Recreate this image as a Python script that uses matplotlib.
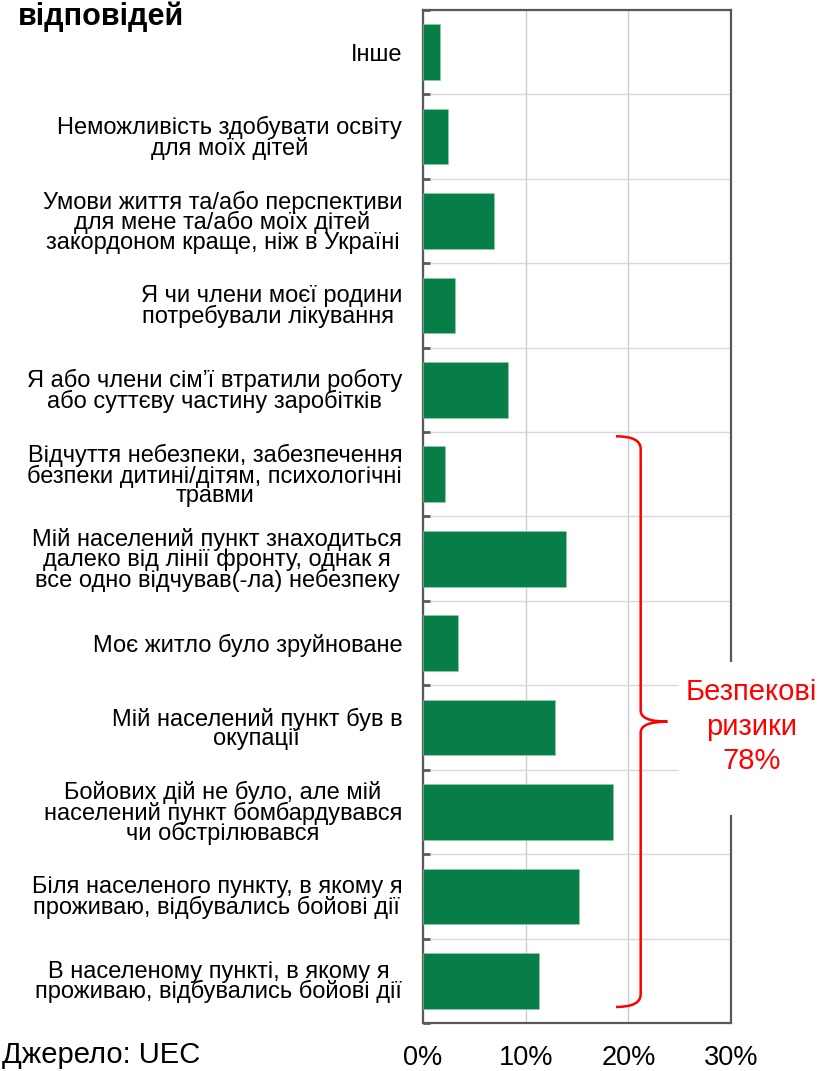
import numpy as np
import matplotlib.pyplot as plt
from matplotlib.path import Path
from matplotlib.patches import PathPatch, Rectangle

plt.rcParams['font.family'] = ['Liberation Sans', 'DejaVu Sans']

categories = [
    'Інше',
    'Неможливість здобувати освіту\nдля моїх дітей',
    'Умови життя та/або перспективи\nдля мене та/або моїх дітей\nзакордоном краще, ніж в Україні',
    'Я чи члени моєї родини\nпотребували лікування ',
    'Я або члени сім’ї втратили роботу\nабо суттєву частину заробітків',
    'Відчуття небезпеки, забезпечення\nбезпеки дитині/дітям, психологічні\nтравми',
    'Мій населений пункт знаходиться\nдалеко від лінії фронту, однак я\nвсе одно відчував(-ла) небезпеку',
    'Моє житло було зруйноване',
    'Мій населений пункт був в\nокупації',
    'Бойових дій не було, але мій\nнаселений пункт бомбардувався\nчи обстрілювався',
    'Біля населеного пункту, в якому я\nпроживаю, відбувались бойові дії',
    'В населеному пункті, в якому я\nпроживаю, відбувались бойові дії',
]
values = [1.7, 2.4, 6.9, 3.1, 8.3, 2.1, 13.9, 3.4, 12.9, 18.5, 15.2, 11.3]
x_ticks = [0, 10, 20, 30]
x_labels = ['0%', '10%', '20%', '30%']
brace_first, brace_last = 5, 11   # security-risk group
brace_text = 'Безпекові\nризики\n78%'

green = '#077D47'
spine_col = '#595959'

fig = plt.figure(figsize=(8.2, 10.71), dpi=100)
ax = fig.add_axes([0.5159, 0.0448, 0.3756, 0.9459])

pos = np.arange(len(categories))
ax.barh(pos, values, height=0.66, color=green, edgecolor='#8fcfa8', linewidth=0.4, zorder=3)

ax.set_xlim(0, 30)
ax.set_ylim(len(categories) - 0.5, -0.5)
ax.set_xticks(x_ticks)
ax.set_xticklabels(x_labels, fontsize=19.5)
ax.set_yticks(pos)
ax.set_yticklabels(categories, fontsize=17, linespacing=0.86, ha='right', multialignment='center')
ax.set_yticks(np.arange(len(categories) + 1) - 0.5, minor=True)

ax.tick_params(axis='x', length=0, pad=16)
ax.tick_params(axis='y', which='major', length=0, pad=15)
ax.tick_params(axis='y', which='minor', direction='in', length=5, width=2, color=spine_col)
ax.grid(axis='x', which='major', color='#c9cdd2', linewidth=1, zorder=0)
ax.grid(axis='y', which='minor', color='#d9d9d9', linewidth=1, zorder=0)
ax.set_axisbelow(True)
for s in ax.spines.values():
    s.set_color(spine_col)
    s.set_linewidth(1.6)

# curly brace for the security group
ytop = brace_first - 0.45
ybot = brace_last + 0.31
ymid = (ytop + ybot) / 2
xv, xt, xm = 21.2, 18.8, 23.8
verts = [(xt, ytop), (xv, ytop), (xv, ytop + 0.15), (xv, ymid - 0.13),
         (xv, ymid), (xm, ymid), (xv, ymid), (xv, ymid + 0.13),
         (xv, ybot - 0.15), (xv, ybot), (xt, ybot)]
codes = [Path.MOVETO, Path.CURVE3, Path.CURVE3, Path.LINETO,
         Path.CURVE3, Path.CURVE3, Path.CURVE3, Path.CURVE3,
         Path.LINETO, Path.CURVE3, Path.CURVE3]
ax.add_patch(PathPatch(Path(verts, codes), fill=False, edgecolor='red', linewidth=1.8,
                       zorder=7, clip_on=False))

# white label box that hides grid and right spine behind the text
ax.add_patch(Rectangle((0.831, 0.2053), 0.46, 0.151, transform=ax.transAxes,
                       facecolor='white', edgecolor='none', zorder=5, clip_on=False))
ax.text(32.0, ymid + 0.06, brace_text, color='red', fontsize=21, ha='center', va='center',
        multialignment='center', linespacing=1.3, zorder=6, clip_on=False)

fig.text(0.022, 1 - 25 / 1071, 'відповідей', fontsize=22, fontweight='bold', va='baseline')
fig.text(0.002, 1 - 1063 / 1071, 'Джерело: UEC', fontsize=21, va='baseline')

fig.savefig('out.png', dpi=100)
